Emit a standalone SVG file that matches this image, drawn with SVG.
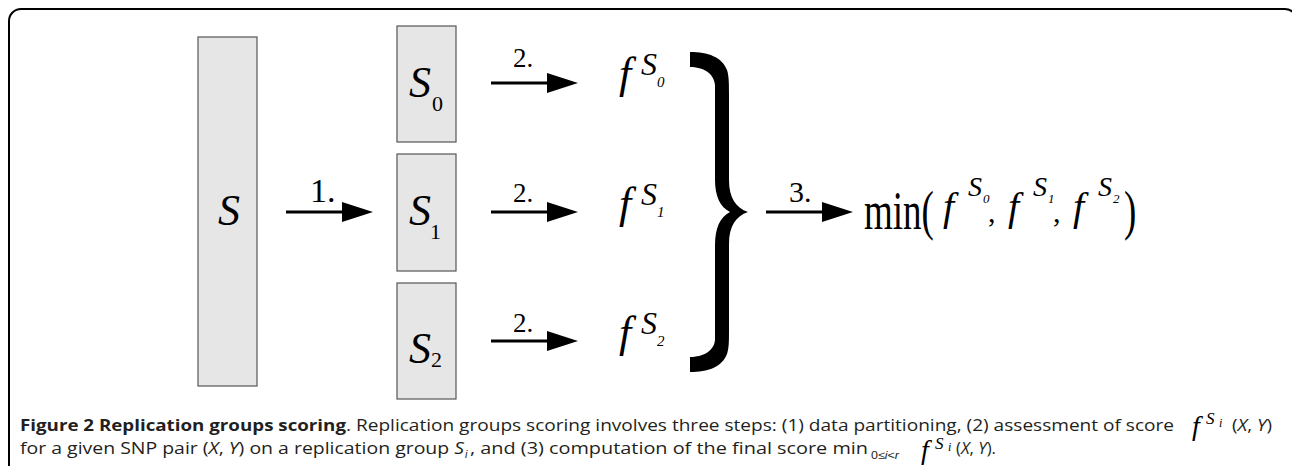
<svg xmlns="http://www.w3.org/2000/svg" width="1292" height="466" viewBox="0 0 1292 466">
<style>
.box{fill:#e6e6e6;stroke:#555;stroke-width:1.2}
.ser{font-family:"Liberation Serif","Times New Roman",serif;fill:#000}
.it{font-style:italic}
.cap{font-family:"Open Sans","Liberation Sans",sans-serif;font-size:16px;fill:#231f20}
.sub{font-family:"Liberation Sans","Open Sans",sans-serif;font-size:11px;fill:#231f20}
.conn{stroke:#000;stroke-width:3;fill:none;marker-end:url(#ah)}
</style>
<defs>
<marker id="ah" markerUnits="userSpaceOnUse" markerWidth="31" markerHeight="20" refX="6" refY="10" orient="auto">
<path d="M0,0 L31,10 L0,20 Z" fill="#000"/>
</marker>
</defs>
<rect x="9" y="9" width="1288" height="480" rx="12" fill="none" stroke="#000" stroke-width="2"/>

<g id="node-S">
<rect class="box" x="198" y="37" width="59" height="349"/>
<text class="ser it" x="229" y="225" font-size="44" text-anchor="middle">S</text>
</g>
<g id="node-S0">
<rect class="box" x="397" y="26" width="59" height="116"/>
<text class="ser it" x="409" y="97" font-size="44">S</text>
<text class="ser" x="432" y="111" font-size="22">0</text>
</g>
<g id="node-S1">
<rect class="box" x="397" y="154" width="59" height="117"/>
<text class="ser it" x="409" y="225" font-size="44">S</text>
<text class="ser" x="430" y="239" font-size="22">1</text>
</g>
<g id="node-S2">
<rect class="box" x="397" y="283" width="59" height="116"/>
<text class="ser it" x="409" y="363" font-size="44">S</text>
<text class="ser" x="431" y="367" font-size="22">2</text>
</g>

<g id="node-f0">
<text class="ser it" x="619" y="88" font-size="44">f</text>
<text class="ser it" x="641" y="75" font-size="32">S</text>
<text class="ser it" x="657" y="87" font-size="15">0</text>
</g>
<g id="node-f1">
<text class="ser it" x="619" y="218" font-size="44">f</text>
<text class="ser it" x="641" y="205" font-size="32">S</text>
<text class="ser it" x="657" y="217" font-size="15">1</text>
</g>
<g id="node-f2">
<text class="ser it" x="619" y="347" font-size="44">f</text>
<text class="ser it" x="641" y="334" font-size="32">S</text>
<text class="ser it" x="657" y="346" font-size="15">2</text>
</g>

<g id="node-brace">
<path fill="#000" d="M690,52 C708,52 722,57 727,70 C729,76 729,84 729,95 L729,180 C729,198 736,208 748,212 C736,216 729,226 729,244 L729,330 C729,341 729,348 727,354 C722,367 708,372 690,372 L690,357 C703,357 714,351 715,340 L715,245 C715,228 720,217 730,212 C720,207 715,196 715,180 L715,85 C714,73 703,67 690,67 Z"/>
</g>

<g id="node-min">
<g transform="translate(864,229) scale(1,1.5)">
<text class="ser" x="0" y="0" font-size="37">min(</text>
</g>
<text class="ser it" x="943" y="220" font-size="40">f</text>
<text class="ser it" x="968" y="196" font-size="28">S</text>
<text class="ser it" x="983" y="203" font-size="13">0</text>
<text class="ser" x="988" y="222" font-size="30">,</text>
<text class="ser it" x="1008" y="220" font-size="40">f</text>
<text class="ser it" x="1033" y="196" font-size="28">S</text>
<text class="ser it" x="1048" y="203" font-size="13">1</text>
<text class="ser" x="1053" y="222" font-size="30">,</text>
<text class="ser it" x="1073" y="220" font-size="40">f</text>
<text class="ser it" x="1098" y="196" font-size="28">S</text>
<text class="ser it" x="1113" y="203" font-size="13">2</text>
<g transform="translate(1124,229) scale(1,1.5)">
<text class="ser" x="0" y="0" font-size="37">)</text>
</g>
</g>

<g id="connectors">
<line class="conn" x1="286" y1="212" x2="348" y2="212"/>
<text class="ser" x="310" y="202" font-size="34">1.</text>
<line class="conn" x1="491" y1="83" x2="553" y2="83"/>
<text class="ser" x="513" y="67" font-size="27">2.</text>
<line class="conn" x1="491" y1="212" x2="553" y2="212"/>
<text class="ser" x="513" y="202" font-size="27">2.</text>
<line class="conn" x1="491" y1="341" x2="553" y2="341"/>
<text class="ser" x="513" y="332" font-size="27">2.</text>
<line class="conn" x1="766" y1="212" x2="828" y2="212"/>
<text class="ser" x="789" y="202" font-size="30">3.</text>
</g>

<g id="caption">
<text class="cap" x="20" y="431" font-weight="bold" textLength="326" lengthAdjust="spacingAndGlyphs">Figure 2 Replication groups scoring</text>
<text class="cap" x="346" y="431" textLength="828" lengthAdjust="spacingAndGlyphs">. Replication groups scoring involves three steps: (1) data partitioning, (2) assessment of score</text>
<text class="ser it" x="1192" y="435" font-size="28">f</text>
<text class="ser it" x="1206" y="424" font-size="17">S</text>
<text class="ser it" x="1219" y="427" font-size="12">i</text>
<text class="cap" x="1232" y="431" textLength="40" lengthAdjust="spacingAndGlyphs">(<tspan font-style="italic">X</tspan>, <tspan font-style="italic">Y</tspan>)</text>

<text class="cap" x="20" y="454" textLength="444" lengthAdjust="spacingAndGlyphs">for a given SNP pair (<tspan font-style="italic">X</tspan>, <tspan font-style="italic">Y</tspan>) on a replication group <tspan font-style="italic">S</tspan></text>
<text class="sub it" x="465" y="458">i</text>
<text class="cap" x="470" y="454" textLength="398" lengthAdjust="spacingAndGlyphs">, and (3) computation of the final score min</text>
<text class="sub" x="871" y="459" textLength="28" lengthAdjust="spacingAndGlyphs">0≤<tspan font-style="italic">i</tspan>&lt;<tspan font-style="italic">r</tspan></text>
<text class="ser it" x="921" y="459" font-size="28">f</text>
<text class="ser it" x="935" y="449" font-size="17">S</text>
<text class="ser it" x="948" y="451" font-size="12">i</text>
<text class="cap" x="956" y="454" textLength="40" lengthAdjust="spacingAndGlyphs">(<tspan font-style="italic">X</tspan>, <tspan font-style="italic">Y</tspan>).</text>
</g>
</svg>
